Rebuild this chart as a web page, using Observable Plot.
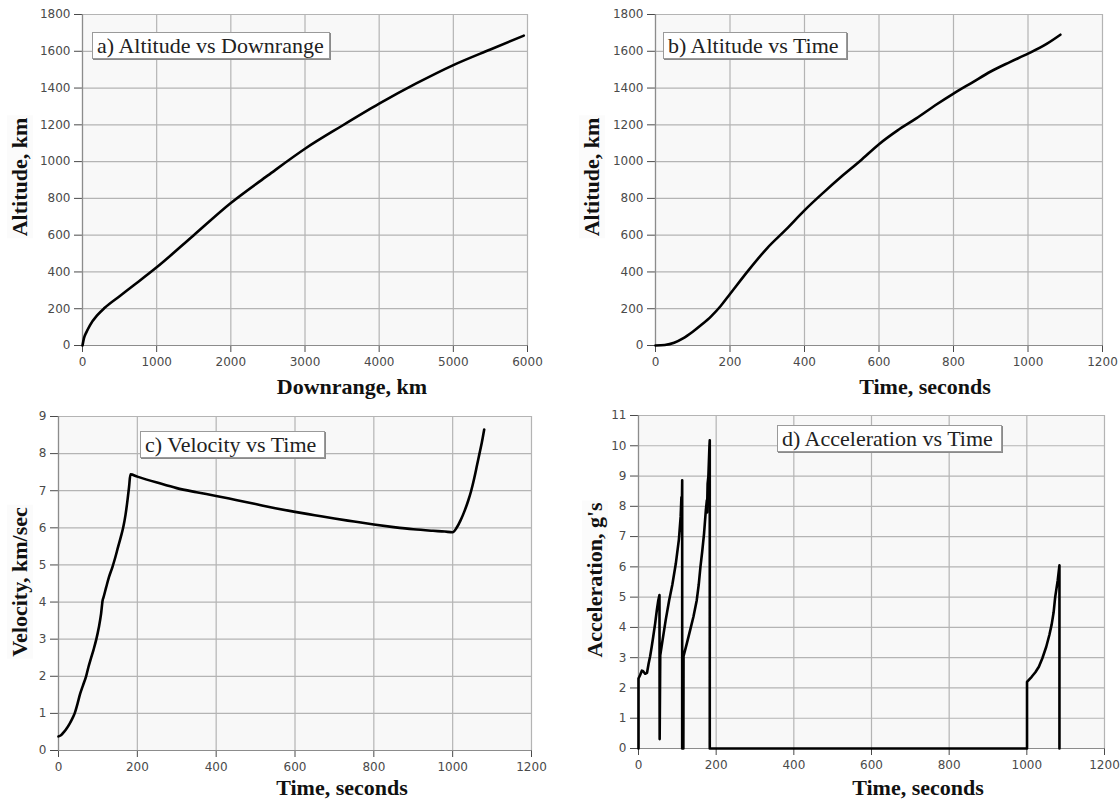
<!DOCTYPE html>
<html>
<head>
<meta charset="utf-8">
<script src="https://cdn.jsdelivr.net/npm/d3@7"></script>
<script src="https://cdn.jsdelivr.net/npm/@observablehq/plot@0.6"></script>
<style>
  html, body { margin: 0; padding: 0; background: #fff; }
  #wrap { position: relative; width: 1120px; height: 801px; overflow: hidden; background: #fff; }
  .panel { position: absolute; }
  .ptitle {
    position: absolute; background: #fff; border: 1px solid #9a9a9a;
    box-shadow: 1px 1px 0 #8a8a8a; font-family: "Liberation Serif", serif;
    font-size: 22px; color: #222; line-height: 24px; padding: 1px 4px 0 4px;
    white-space: nowrap; box-sizing: border-box;
  }
  .xlab, .ylab {
    position: absolute; font-family: "Liberation Serif", serif; font-weight: bold;
    font-size: 22px; color: #111; white-space: nowrap;
  }
  .xlab { transform: translate(-50%, -50%); }
  .ylab { transform: translate(-50%, -50%) rotate(-90deg); background: #fbfbfb; padding: 0 2px; }
</style>
</head>
<body>
<div id="wrap"></div>
<script>
// ---------- data ----------
// a) Altitude vs Downrange
const downrangeA = [0, 20, 50, 100, 200, 300, 500, 700, 1000, 1500, 2000, 2500, 3000, 3500, 4000, 4500, 5000, 5500, 5950];
const altitudeA  = [0, 40, 70, 110, 165, 205, 268, 330, 425, 600, 775, 925, 1070, 1195, 1315, 1425, 1525, 1610, 1685];

// b) Altitude vs Time
const timeB     = [0, 25, 50, 75, 100, 125, 150, 175, 200, 250, 300, 350, 400, 450, 500, 550, 600, 650, 700, 750, 800, 850, 900, 950, 1000, 1050, 1087];
const altitudeB = [0, 3, 15, 40, 75, 115, 160, 215, 280, 410, 530, 630, 735, 830, 920, 1005, 1095, 1170, 1235, 1305, 1370, 1430, 1490, 1540, 1587, 1640, 1690];

// c) Velocity vs Time
const timeC     = [0, 7, 14, 21, 28, 35, 41, 48, 55, 62, 70, 76, 82, 89, 96, 102, 108, 112, 114, 121, 128, 137, 144, 151, 158, 164, 170, 175, 179, 182.5, 200, 250, 300, 350, 400, 450, 500, 550, 600, 650, 700, 750, 800, 850, 900, 950, 980, 1000, 1010, 1020, 1030, 1040, 1047, 1055, 1062, 1068, 1074, 1080];
const velocityC = [0.38, 0.42, 0.5, 0.6, 0.72, 0.86, 1.0, 1.25, 1.53, 1.75, 2.0, 2.25, 2.47, 2.72, 3.0, 3.3, 3.68, 4.05, 4.12, 4.4, 4.67, 4.95, 5.2, 5.48, 5.75, 6.0, 6.35, 6.74, 7.1, 7.44, 7.38, 7.22, 7.07, 6.96, 6.86, 6.75, 6.64, 6.53, 6.43, 6.34, 6.25, 6.17, 6.09, 6.02, 5.96, 5.92, 5.9, 5.88, 6.0, 6.2, 6.45, 6.75, 7.0, 7.35, 7.7, 8.0, 8.3, 8.65];

// d) Acceleration vs Time
const timeD  = [0, 0, 4, 8.6, 12, 17, 22, 26, 30, 34, 38, 43, 47, 51, 54, 54.5, 56, 62, 70, 79, 87, 96, 104, 108.5, 110.5, 111, 112.5, 112.5, 115.5, 116, 120, 124.5, 133, 141.6, 150, 155, 159.5, 164, 168.8, 173.4, 176, 176.5, 178, 180, 182.7, 183.5, 183.5, 1000.5, 1000.5, 1012.5, 1022, 1031, 1040, 1050, 1058, 1064, 1069, 1073, 1079.5, 1084, 1084];
const accelD = [0, 2.31, 2.42, 2.57, 2.55, 2.47, 2.5, 2.8, 3.05, 3.36, 3.7, 4.14, 4.55, 4.9, 5.07, 0.31, 3.08, 3.58, 4.24, 4.9, 5.4, 6.1, 6.9, 7.65, 8.3, 7.2, 8.86, 0, 0, 3.05, 3.25, 3.47, 3.91, 4.36, 4.9, 5.4, 6.0, 6.5, 7.1, 7.87, 8.2, 7.8, 8.75, 9.0, 10.0, 10.18, 0, 0, 2.2, 2.37, 2.52, 2.7, 2.98, 3.36, 3.75, 4.1, 4.5, 5.0, 5.55, 6.05, 0];

// ticks
const xTicksA = [0, 1000, 2000, 3000, 4000, 5000, 6000];
const yTicksAlt = [0, 200, 400, 600, 800, 1000, 1200, 1400, 1600, 1800];
const xTicksTime = [0, 200, 400, 600, 800, 1000, 1200];
const yTicksC = [0, 1, 2, 3, 4, 5, 6, 7, 8, 9];
const yTicksD = [0, 1, 2, 3, 4, 5, 6, 7, 8, 9, 10, 11];

// labels
const titles = ["a) Altitude vs Downrange", "b) Altitude vs Time", "c) Velocity vs Time", "d) Acceleration vs Time"];
const xLabels = ["Downrange, km", "Time, seconds", "Time, seconds", "Time, seconds"];
const yLabels = ["Altitude, km", "Altitude, km", "Velocity, km/sec", "Acceleration, g's"];

// ---------- drawing ----------
const wrap = document.getElementById("wrap");

function panel(cfg) {
  const data = cfg.xs.map((x, i) => ({x, y: cfg.ys[i]}));
  const svg = Plot.plot({
    width: cfg.w, height: cfg.h,
    marginLeft: cfg.ml, marginRight: cfg.mr, marginTop: cfg.mt, marginBottom: cfg.mb,
    style: {background: "transparent", fontFamily: "DejaVu Sans, sans-serif", fontSize: "12px", color: "#4a4a4a", overflow: "visible"},
    x: {domain: cfg.xd, ticks: cfg.xt, tickFormat: d => String(d), tickSize: 7, tickPadding: 5, label: null},
    y: {domain: cfg.yd, ticks: cfg.yt, tickFormat: d => String(d), tickSize: 8, tickPadding: 4, label: null},
    marks: [
      Plot.frame({fill: "#f8f8f8", stroke: null}),
      Plot.ruleX(cfg.xt, {stroke: "#b4b4b4", strokeWidth: 1.2}),
      Plot.ruleY(cfg.yt, {stroke: "#b4b4b4", strokeWidth: 1.2}),
      Plot.ruleX([cfg.xd[0]], {stroke: "#8c8c8c", strokeWidth: 1.2}),
      Plot.ruleY([cfg.yd[0]], {stroke: "#8c8c8c", strokeWidth: 1.2}),
      Plot.line(data, {x: "x", y: "y", stroke: "#000", strokeWidth: 2.6, strokeLinejoin: "round", curve: cfg.curve})
    ]
  });
  svg.classList.add("panel");
  svg.style.left = cfg.left + "px";
  svg.style.top = cfg.top + "px";
  wrap.appendChild(svg);

  const t = document.createElement("div");
  t.className = "ptitle";
  t.textContent = cfg.title;
  t.style.left = cfg.tb[0] + "px"; t.style.top = cfg.tb[1] + "px";
  t.style.width = cfg.tb[2] + "px"; t.style.height = cfg.tb[3] + "px";
  wrap.appendChild(t);

  const xl = document.createElement("div");
  xl.className = "xlab"; xl.textContent = cfg.xlabel;
  xl.style.left = cfg.xlp[0] + "px"; xl.style.top = cfg.xlp[1] + "px";
  wrap.appendChild(xl);

  const yl = document.createElement("div");
  yl.className = "ylab"; yl.textContent = cfg.ylabel;
  yl.style.left = cfg.ylp[0] + "px"; yl.style.top = cfg.ylp[1] + "px";
  wrap.appendChild(yl);
}

panel({left: 0, top: 0, w: 560, h: 400, ml: 82, mr: 33, mt: 14, mb: 55, curve: "monotone-x",
  xs: downrangeA, ys: altitudeA, xd: [0, 6000], yd: [0, 1800], xt: xTicksA, yt: yTicksAlt,
  title: titles[0], tb: [92, 32, 238, 27], xlabel: xLabels[0], xlp: [352, 387], ylabel: yLabels[0], ylp: [20, 177]});

panel({left: 560, top: 0, w: 560, h: 400, ml: 95, mr: 18, mt: 14, mb: 55, curve: "monotone-x",
  xs: timeB, ys: altitudeB, xd: [0, 1200], yd: [0, 1800], xt: xTicksTime, yt: yTicksAlt,
  title: titles[1], tb: [663, 32, 184, 27], xlabel: xLabels[1], xlp: [925, 387], ylabel: yLabels[1], ylp: [592, 177]});

panel({left: 0, top: 400, w: 560, h: 401, ml: 58, mr: 29, mt: 16, mb: 51, curve: "monotone-x",
  xs: timeC, ys: velocityC, xd: [0, 1200], yd: [0, 9], xt: xTicksTime, yt: yTicksC,
  title: titles[2], tb: [140, 431, 185, 27], xlabel: xLabels[2], xlp: [342, 788], ylabel: yLabels[2], ylp: [20, 582]});

panel({left: 560, top: 400, w: 560, h: 401, ml: 78, mr: 16, mt: 15, mb: 53, curve: "linear",
  xs: timeD, ys: accelD, xd: [0, 1200], yd: [0, 11], xt: xTicksTime, yt: yTicksD,
  title: titles[3], tb: [777, 425, 225, 27], xlabel: xLabels[3], xlp: [918, 788], ylabel: yLabels[3], ylp: [595, 580]});
</script>
</body>
</html>
